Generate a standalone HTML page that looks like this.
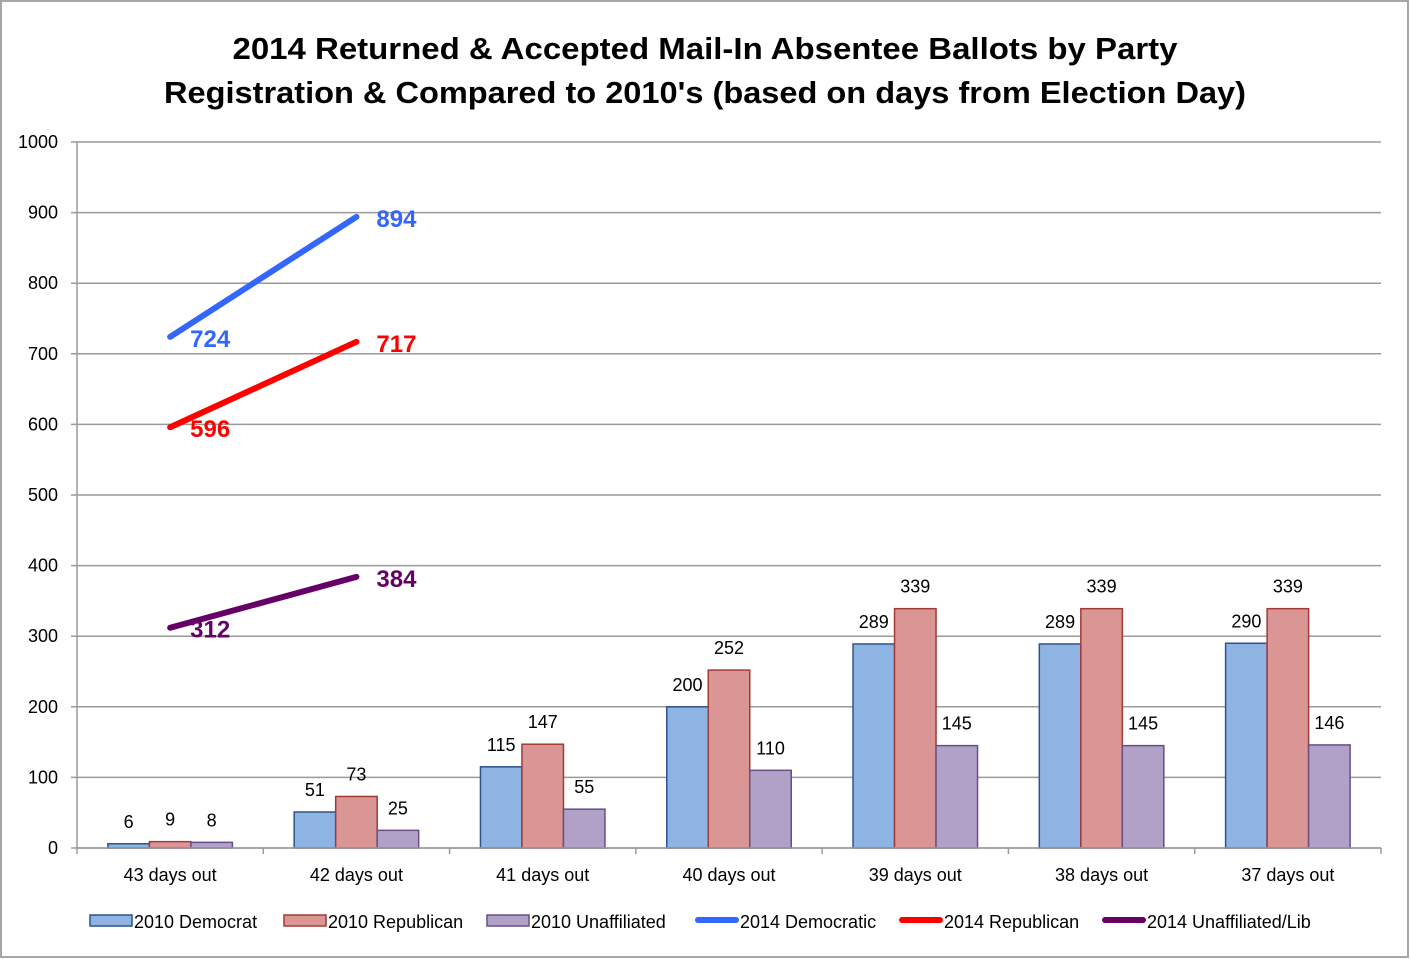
<!DOCTYPE html>
<html><head><meta charset="utf-8"><style>
html,body{margin:0;padding:0;background:#fff}
svg{display:block;font-family:"Liberation Sans",sans-serif}
</style></head><body>
<svg id="chart" width="1410" height="959" xmlns="http://www.w3.org/2000/svg">
<rect x="1" y="1" width="1407" height="956" fill="#fff" stroke="#a6a6a6" stroke-width="2"/>
<g font-weight="bold" font-size="31" text-anchor="middle" fill="#000">
<text x="705" y="59" textLength="945" lengthAdjust="spacingAndGlyphs">2014 Returned &amp; Accepted Mail-In Absentee Ballots by Party</text>
<text x="705" y="103" textLength="1082" lengthAdjust="spacingAndGlyphs">Registration &amp; Compared to 2010's (based on days from Election Day)</text>
</g>
<g id="grid"></g><g id="bars"></g><g id="lines"></g><g id="axes"></g><g id="legend"></g>
</svg>
<script>
const categories=["43 days out","42 days out","41 days out","40 days out","39 days out","38 days out","37 days out"];
const dem2010=[6,51,115,200,289,289,290];
const rep2010=[9,73,147,252,339,339,339];
const una2010=[8,25,55,110,145,145,146];
const dem2014=[724,894];
const rep2014=[596,717];
const una2014=[312,384];
const yTicks=[0,100,200,300,400,500,600,700,800,900,1000];

const NS="http://www.w3.org/2000/svg";
const X0=77,X1=1381,Y0=848,Y1=142,YMAX=1000;
const cw=(X1-X0)/categories.length;
const y=v=>Y0-(v/YMAX)*(Y0-Y1);
const xc=i=>X0+cw*(i+0.5);
function mk(tag,attrs,parent,txt){const e=document.createElementNS(NS,tag);for(const k in attrs)e.setAttribute(k,attrs[k]);if(txt!==undefined)e.textContent=txt;parent.appendChild(e);return e;}
const grid=document.getElementById('grid'),bars=document.getElementById('bars'),lines=document.getElementById('lines'),axes=document.getElementById('axes'),legend=document.getElementById('legend');

yTicks.forEach(t=>{
  const l=mk('line',{x1:71,x2:X1,y1:y(t),y2:y(t),stroke:'#9a9a9a','stroke-width':1.5},grid);
  
  
  const tx=mk('text',{x:58,y:y(t)+6,'text-anchor':'end','font-size':18},axes,String(t));
  
  
});
const ax=mk('line',{x1:X0,x2:X0,y1:Y1,y2:Y0,stroke:'#9a9a9a','stroke-width':1.5},axes);


const xa=mk('line',{x1:X0,x2:X1,y1:Y0,y2:Y0,stroke:'#9a9a9a','stroke-width':1.5},axes);


for(let i=0;i<=categories.length;i++){
  const tk=mk('line',{x1:X0+cw*i,x2:X0+cw*i,y1:Y0,y2:Y0+6,stroke:'#9a9a9a','stroke-width':1.5},axes);
  
  
}
categories.forEach((c,i)=>{
  const t=mk('text',{x:xc(i),y:881,'text-anchor':'middle','font-size':18},axes,c);
  
  
});

const bw=41.5;
const series=[[dem2010,'#8eb4e3','#2f528f','dem-2010'],[rep2010,'#d99694','#a33a37','rep-2010'],[una2010,'#b2a1c7','#674f86','una-2010']];
series.forEach((s,si)=>{
  s[0].forEach((v,i)=>{
    const bx=xc(i)-1.5*bw+si*bw;
    const r=mk('rect',{x:bx,y:y(v),width:bw,height:Y0-y(v),fill:s[1],stroke:s[2],'stroke-width':1.5},bars);
    
    
    const t=mk('text',{x:bx+bw/2,y:y(v)-16,'text-anchor':'middle','font-size':18},bars,String(v));
    
    
  });
});

const lser=[[dem2014,'#3366ff','dem-2014'],[rep2014,'#ff0000','rep-2014'],[una2014,'#660066','una-2014']];
lser.forEach(s=>{
  const pts=s[0].map((v,i)=>xc(i)+','+y(v)).join(' ');
  const p=mk('polyline',{points:pts,fill:'none',stroke:s[1],'stroke-width':6,'stroke-linecap':'round'},lines);
  
  
  s[0].forEach((v,i)=>{
    const lx=xc(i)+20, ly=i===0? y(v)+10 : y(v)+10;
    const t=mk('text',{x:lx,y:ly,'font-size':24,'font-weight':'bold',fill:s[1]},lines,String(v));
    
    
  });
});

const leg=[['box','#8eb4e3','#2f528f','2010 Democrat',90],['box','#d99694','#a33a37','2010 Republican',284],['box','#b2a1c7','#674f86','2010 Unaffiliated',487],
['line','#3366ff','','2014 Democratic',696],['line','#ff0000','','2014 Republican',900],['line','#660066','','2014 Unaffiliated/Lib',1103]];
leg.forEach(l=>{
  const g=mk('g',{},legend);
  
  
  if(l[0]==='box') mk('rect',{x:l[4],y:915,width:42,height:11,fill:l[1],stroke:l[2],'stroke-width':1.5},g);
  else mk('line',{x1:l[4]+2,x2:l[4]+40,y1:920,y2:920,stroke:l[1],'stroke-width':6,'stroke-linecap':'round'},g);
  mk('text',{x:l[4]+44,y:928,'font-size':18},g,l[3]);
});
</script>
</body></html>
